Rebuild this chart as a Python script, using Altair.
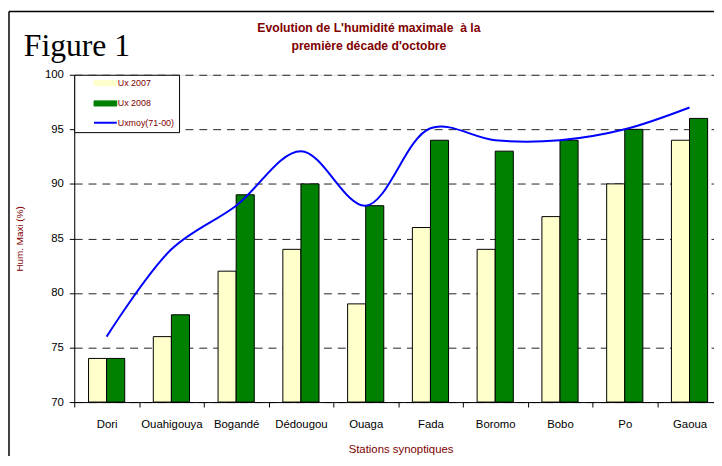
import altair as alt
import pandas as pd

stations = ["Dori", "Ouahigouya", "Bogandé", "Dédougou", "Ouaga", "Fada",
            "Boromo", "Bobo", "Po", "Gaoua"]
ux2007 = [74, 76, 82, 84, 79, 86, 84, 87, 90, 94]
ux2008 = [74, 78, 89, 90, 88, 94, 93, 94, 95, 96]
uxmoy = [76, 84, 88, 93, 88, 95.1, 94, 94, 95, 97]
series_names = ["Ux 2007", "Ux 2008", "Uxmoy(71-00)"]
series_colors = ["#FFFFCC", "#008000", "#0000FF"]
y_ticks = [70, 75, 80, 85, 90, 95, 100]
title_lines = ["Evolution de L'humidité maximale\u00a0 à la", "première décade d'octobre"]

W, H = 647, 331
X_RANGE = 655
DARK_RED = "#800000"
FONT = "Liberation Sans"

bars_df = pd.DataFrame({
    "station": stations * 2,
    "series": [series_names[0]] * len(stations) + [series_names[1]] * len(stations),
    "value": ux2007 + ux2008,
})
line_df = pd.DataFrame({
    "station": stations,
    "series": [series_names[2]] * len(stations),
    "value": uxmoy,
})
one = pd.DataFrame({"t": ["Figure 1"], "l1": [title_lines[0]], "l2": [title_lines[1]]})

x_enc = alt.X(
    "station:N", sort=stations,
    scale=alt.Scale(paddingInner=0, paddingOuter=0, range=[0, X_RANGE]),
    axis=alt.Axis(
        title="Stations synoptiques", titleColor=DARK_RED, titleFont=FONT,
        titleFontSize=11.5, titleFontWeight="normal", titlePadding=14,
        titleX=330, titleAnchor="middle",
        labelFont=FONT, labelFontSize=11.5, labelColor="black", labelAngle=0,
        labelPadding=12,
        tickBand="extent", tickSize=5, tickColor="black", domainColor="black",
        grid=False,
    ),
)
y_enc = alt.Y(
    "value:Q",
    scale=alt.Scale(domain=[70, 100], nice=False, zero=False),
    axis=alt.Axis(
        title="Hum. Maxi (%)", titleColor=DARK_RED, titleFont=FONT,
        titleFontSize=10, titleFontWeight="normal", titlePadding=20,
        values=y_ticks, labelFont=FONT, labelFontSize=11.5, labelColor="black",
        labelPadding=6, tickSize=5, tickColor="black", domainColor="black",
        grid=True, gridColor="#222222", gridDash=[8, 6], gridWidth=1,
    ),
)

is_line = "datum.value === 'Uxmoy(71-00)'"
color_enc = alt.Color(
    "series:N",
    scale=alt.Scale(domain=series_names, range=series_colors),
    legend=alt.Legend(
        title=None, orient="none", legendX=0, legendY=0,
        fillColor="white", strokeColor="black", padding=4, rowPadding=9.5,
        symbolSize=361, symbolOffset=23, labelOffset=8,
        labelFont=FONT, labelFontSize=9, labelColor=DARK_RED, labelLimit=200,
        symbolType={"expr": is_line + " ? 'M-1.21,0H1.21' : 'M-1.21,-0.27H1.21V0.27H-1.21Z'"},
        symbolStrokeColor={"expr": is_line + " ? '#0000FF' : '#000000'"},
        symbolStrokeWidth={"expr": is_line + " ? 2 : 1"},
        symbolOpacity=1,
    ),
)

bars = alt.Chart(bars_df).mark_bar(stroke="black", strokeWidth=1).encode(
    x=x_enc,
    xOffset=alt.XOffset("series:N", sort=series_names[:2],
                        scale=alt.Scale(paddingInner=0, paddingOuter=0.79)),
    y=y_enc,
    y2=alt.datum(70),
    color=color_enc,
)

line = alt.Chart(line_df).mark_line(strokeWidth=2, interpolate="catmull-rom").encode(
    x=alt.X("station:N", sort=stations),
    y=alt.Y("value:Q"),
    color=alt.Color("series:N"),
)

frame_left = alt.Chart(one).mark_rule(color="black", strokeWidth=1.5).encode(
    x=alt.value(-66), y=alt.value(-64), y2=alt.value(H + 60)
)
frame_top = alt.Chart(one).mark_rule(color="black", strokeWidth=1.5).encode(
    x=alt.value(-66), x2=alt.value(W + 10), y=alt.value(-64)
)
fig_text = alt.Chart(one).mark_text(
    font="Liberation Serif", fontSize=32, align="left", baseline="alphabetic",
    color="black"
).encode(x=alt.value(-51), y=alt.value(-19), text="t:N")

title_style = dict(font=FONT, fontSize=12.3, fontWeight="bold", color=DARK_RED,
                   align="center", baseline="middle")
title1 = alt.Chart(one).mark_text(**title_style).encode(
    x=alt.value(298), y=alt.value(-47), text="l1:N")
title2 = alt.Chart(one).mark_text(**title_style).encode(
    x=alt.value(298), y=alt.value(-29), text="l2:N")

chart = alt.layer(frame_left, frame_top, fig_text, title1, title2, bars, line).properties(
    width=W, height=H,
    padding={"left": 67, "top": 65, "right": 0, "bottom": 52},
    autosize=alt.AutoSizeParams(type="none"),
).configure_view(stroke=None).configure(background="white")

chart.save("out.html", embed_options={"renderer": "svg", "actions": False})
